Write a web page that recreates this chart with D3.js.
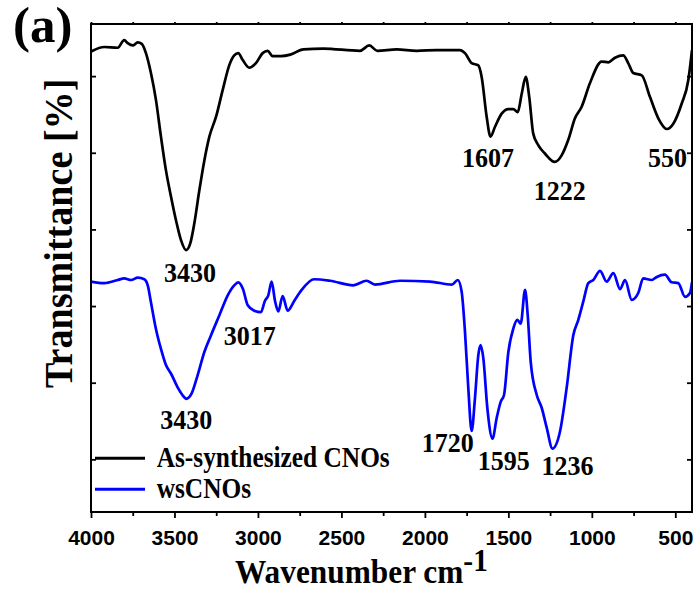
<!DOCTYPE html>
<html><head><meta charset="utf-8">
<script src="https://cdn.jsdelivr.net/npm/d3@7"></script>
<style>body{margin:0;background:#fff}svg{display:block}</style>
</head><body><svg id="c" width="698" height="590"></svg>
<script>
// ---------- data ----------
const wnBlack=[4000,3920,3840,3801,3780,3750,3720,3696,3671,3641,3611,3581,3551,3521,3491,3461,3430,3405,3381,3351,3321,3291,3251,3211,3172,3142,3118,3091,3052,3012,2972,2942,2912,2862,2806,2728,2609,2389,2333,2285,2169,2049,1929,1790,1760,1720,1680,1660,1630,1607,1580,1540,1500,1470,1444,1420,1396,1375,1351,1321,1281,1222,1180,1141,1101,1061,1011,941,901,861,812,782,752,701,652,602,550,512,462,422,400];
const tBlack=[63.2,63.8,63.7,64.7,64.3,64.0,64.4,64.2,63.0,60.4,56.9,52.1,47.7,44.3,41.2,38.6,37.3,38.2,40.8,45.1,49.0,52.1,54.7,58.2,61.4,62.7,63.0,62.1,61.1,61.7,63.0,63.3,62.6,62.6,62.8,63.5,63.6,63.3,64.0,63.3,63.5,63.3,63.4,63.4,63.0,61.7,61.4,59.9,54.7,52.1,53.4,55.1,55.7,55.7,55.3,57.7,59.9,57.3,52.5,51.0,49.9,48.8,49.7,51.7,54.5,56.0,59.1,61.9,61.8,62.4,62.7,61.7,60.4,60.1,57.3,54.5,53.1,53.8,56.4,59.5,63.4];
const wnBlue=[4000,3920,3840,3801,3760,3720,3681,3660,3641,3611,3581,3551,3521,3481,3441,3430,3397,3361,3321,3281,3231,3181,3142,3118,3091,3061,3022,2982,2958,2938,2918,2898,2878,2852,2822,2782,2738,2664,2568,2429,2349,2299,2149,1969,1839,1803,1780,1760,1740,1720,1700,1680,1666,1650,1626,1595,1570,1546,1526,1500,1470,1446,1426,1400,1384,1366,1330,1300,1270,1236,1191,1151,1111,1081,1051,1021,991,951,911,871,831,801,761,722,692,641,611,562,522,482,442,412,400];
const tBlue=[33.2,33.0,33.4,33.6,33.4,33.7,33.5,32.7,30.5,27.0,24.4,22.3,21.2,19.4,18.1,17.9,18.6,21.0,24.0,26.2,28.8,31.4,32.7,33.1,32.3,30.1,29.4,29.2,30.7,31.4,33.2,30.7,29.3,31.3,29.4,30.7,32.1,33.5,33.3,32.7,33.3,32.8,33.3,33.2,32.8,33.4,31.9,26.7,19.3,13.7,18.0,23.6,24.9,23.2,16.7,12.7,15.4,17.5,18.4,24.0,27.1,28.2,27.7,32.1,28.8,22.7,18.4,16.7,14.1,11.4,13.6,19.3,26.2,28.2,30.6,33.0,33.4,34.6,33.2,34.3,32.2,33.4,30.8,31.7,33.6,33.4,33.8,34.1,33.1,33.0,31.2,31.7,33.1];
const seriesNames=["As-synthesized CNOs","wsCNOs"];
const seriesColors=["#000000","#0000ff"];
const xMajorTicks=[4000,3500,3000,2500,2000,1500,1000,500];
const xMinorTicks=[3750,3250,2750,2250,1750,1250,750];
const yTicks=[10,20,30,40,50,60];
// peak annotations (text, wavenumber / transmittance of label anchor)
const peakText=["3430","1607","1222","550","3430","3017","1720","1595","1236"];
const peakWn=[3407,1622,1192,547,3429,3049,1863,1527,1146];
const peakT=[33.1,48.2,43.8,48.2,14.0,24.9,10.9,8.6,8.0];

// ---------- chart ----------
const svg=d3.select("#c");
const L=91,T=24,R=692,B=512;
const x=d3.scaleLinear().domain([4000,400]).range([L,R]);
const y=d3.scaleLinear().domain([3.13,66.8]).range([B,T]);
const serif="'Liberation Serif','Times New Roman',serif";
const sans="'Liberation Sans',Arial,sans-serif";

svg.append("defs").append("clipPath").attr("id","clip")
  .append("rect").attr("x",L).attr("y",T).attr("width",R-L).attr("height",B-T);

// curves
const line=d3.line().x(d=>x(d[0])).y(d=>y(d[1])).curve(d3.curveMonotoneX);
const series=[d3.zip(wnBlack,tBlack),d3.zip(wnBlue,tBlue)];
svg.append("g").attr("clip-path","url(#clip)").selectAll("path").data(series).join("path")
  .attr("d",line).attr("fill","none").attr("stroke",(d,i)=>seriesColors[i])
  .attr("stroke-width",2.7).attr("stroke-linejoin","round");

// axes
function styleAxis(g){g.select(".domain").remove();g.selectAll("line").attr("stroke","#000").attr("stroke-width",1.8);}
svg.append("g").attr("transform",`translate(0,${B})`)
  .call(d3.axisBottom(x).tickValues(xMajorTicks).tickSize(6).tickFormat(d3.format("d")))
  .call(styleAxis)
  .call(g=>g.selectAll("text").attr("y",33).attr("dy",0)
     .attr("font-family",sans).attr("font-weight","bold").attr("font-size",21).attr("fill","#000"));
svg.append("g").attr("transform",`translate(0,${B})`)
  .call(d3.axisBottom(x).tickValues(xMinorTicks).tickSize(4).tickFormat(""))
  .call(styleAxis);
svg.append("g").attr("transform",`translate(0,${T})`)
  .call(d3.axisTop(x).tickValues(xMajorTicks.concat(xMinorTicks)).tickSize(2).tickFormat(""))
  .call(styleAxis);
svg.append("g").attr("transform",`translate(${L},0)`)
  .call(d3.axisLeft(y).tickValues(yTicks).tickSize(-5).tickFormat(""))
  .call(styleAxis);
svg.append("g").attr("transform",`translate(${R},0)`)
  .call(d3.axisRight(y).tickValues(yTicks).tickSize(-5).tickFormat(""))
  .call(styleAxis);

// frame
svg.append("rect").attr("x",L).attr("y",T).attr("width",R-L).attr("height",B-T)
  .attr("fill","none").attr("stroke","#000").attr("stroke-width",2);

// peak labels
svg.append("g").selectAll("text").data(peakText).join("text")
  .attr("transform",(d,i)=>`translate(${x(peakWn[i])},${y(peakT[i])}) scale(0.93,1)`)
  .attr("text-anchor","middle").attr("font-family",serif).attr("font-weight","bold")
  .attr("font-size",28).attr("fill","#000").text(d=>d);

// legend
const leg=svg.append("g");
seriesNames.forEach((n,i)=>{
  const ly=458.3+i*31;
  leg.append("line").attr("x1",95).attr("x2",145).attr("y1",ly).attr("y2",ly)
    .attr("stroke",seriesColors[i]).attr("stroke-width",3);
  leg.append("text").attr("transform",`translate(156.7,${ly+8.5}) scale(0.845,1)`)
    .attr("font-family",serif).attr("font-weight","bold").attr("font-size",30)
    .attr("fill","#000").text(n);
});

// axis titles
const xt=svg.append("text").attr("transform","translate(235,583) scale(0.95,1)")
  .attr("font-family",serif).attr("font-weight","bold").attr("font-size",33).attr("fill","#000");
xt.append("tspan").text("Wavenumber cm");
xt.append("tspan").attr("dy",-12).attr("font-size",31).text("-1");

svg.append("text").attr("transform","translate(71.5,233.3) rotate(-90) scale(0.93,1)")
  .attr("text-anchor","middle").attr("font-family",serif).attr("font-weight","bold")
  .attr("font-size",41).attr("fill","#000").text("Transmittance [%]");

svg.append("text").attr("x",13).attr("y",42).attr("font-family",serif).attr("font-weight","bold")
  .attr("font-size",51).attr("fill","#000").text("(a)");
</script></body></html>
